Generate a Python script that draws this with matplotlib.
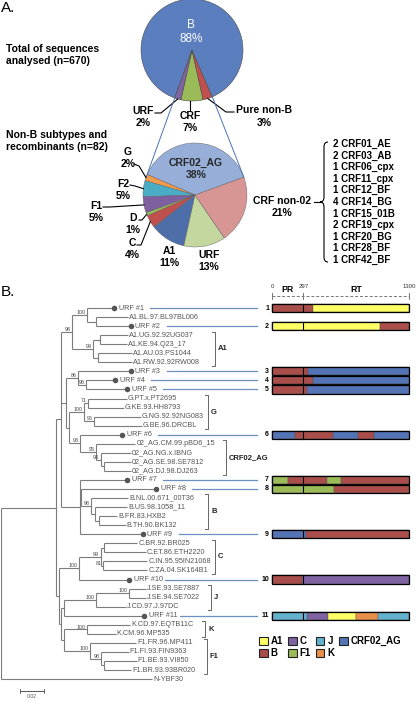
import matplotlib
matplotlib.use("Agg")
import numpy as np
import matplotlib.pyplot as plt
from matplotlib.patches import Rectangle, Patch, PathPatch
from matplotlib.path import Path

plt.rcParams['font.family'] = ['Liberation Sans', 'DejaVu Sans']

# ---------------- panel A data
top_labels = ["CRF", "Pure non-B", "B", "URF"]
top_pct = [7, 3, 88, 2]
top_colors = ["#9BBB59", "#C0504D", "#5B7EBF", "#8064A2"]

nonb_labels = ["CRF02_AG", "G", "F2", "F1", "D", "C", "A1", "URF", "CRF non-02"]
nonb_pct = [38, 2, 5, 5, 1, 4, 11, 13, 21]
nonb_colors = ["#97AFD8", "#F39B4C", "#4BACC6", "#7E60A1", "#9BBB59",
               "#C0504D", "#4E6EAA", "#C4D79E", "#D79694"]

crf_counts = [2, 2, 1, 1, 1, 4, 1, 2, 1, 1, 1]
crf_names = ["CRF01_AE", "CRF03_AB", "CRF06_cpx", "CRF11_cpx", "CRF12_BF",
             "CRF14_BG", "CRF15_01B", "CRF19_cpx", "CRF20_BG", "CRF28_BF", "CRF42_BF"]
n_total = 670
n_nonb = 82

# ---------------- panel B data
# NJ tree, branch lengths in substitutions/site, bootstrap as node labels
tree_nwk = (
    "((("
    "((URF #1:0.0225,(A1.BL.97.BL97BL006:0.027,URF #2:0.029):0.007)100:0.013,"
    "((A1.UG.92.92UG037:0.023,A1.KE.94.Q23_17:0.0225):0.006,(A1.AU.03.PS1044:0.029,A1.RW.92.92RW008:0.029):0.004)99:0.0175)98:0.009,"
    "((URF #3:0.044,(URF #4:0.024,URF #5:0.034)98:0.007)86:0.010,"
    "(((G.PT.x.PT2695:0.0325,G.KE.93.HH8793:0.030)71:0.003,(G.NG.92.92NG083:0.039,G.BE.96.DRCBL:0.040)96:0.008)100:0.0125,"
    "(URF #6:0.035,(02_AG.CM.99.pBD6_15:0.033,(02_AG.NG.x.IBNG:0.025,(02_AG.SE.98.SE7812:0.0225,02_AG.DJ.98.DJ263:0.023):0.0025)93:0.004)95:0.013)93:0.009):0.003):0.004,"
    "(URF #7:0.039,(URF #8:0.0625,(B.NL.00.671_00T36:0.031,(B.US.98.1058_11:0.027,(B.FR.83.HXB2:0.015,B.TH.90.BK132:0.022):0.004):0.003)98:0.008):0.001,URF #9:0.052):0.016"
    "):0.004,"
    "((((C.BR.92.BR025:0.028,C.ET.86.ETH2220:0.035):0.0025,(C.IN.95.95IN21068:0.037,C.ZA.04.SK164B1:0.037)81:0.002)99:0.018,URF #10:0.042)100:0.017,"
    "((((J.SE.93.SE7887:0.014,J.SE.94.SE7022:0.014)100:0.027,J.CD.97.J.97DC:0.025)100:0.027,URF #11:0.067):0.0025,"
    "((K.CD.97.EQTB11C:0.036,K.CM.96.MP535:0.024)100:0.019,(F1.FR.96.MP411:0.038,(F1.FI.93.FIN9363:0.023,(F1.BE.93.VI850:0.027,F1.BR.93.93BR020:0.0225):0.0025)98:0.009)100:0.022):0.0025):0.002"
    "):0.002"
    "):0.046,N-YBF30:0.126);"
)

clade_names = ["A1", "G", "CRF02_AG", "B", "C", "J", "K", "F1"]
clade_first = ["A1.UG.92.92UG037", "G.PT.x.PT2695", "02_AG.CM.99.pBD6_15", "B.NL.00.671_00T36",
               "C.BR.92.BR025", "J.SE.93.SE7887", "K.CD.97.EQTB11C", "F1.FR.96.MP411"]
clade_last = ["A1.RW.92.92RW008", "G.BE.96.DRCBL", "02_AG.DJ.98.DJ263", "B.TH.90.BK132",
              "C.ZA.04.SK164B1", "J.CD.97.J.97DC", "K.CM.96.MP535", "F1.BR.93.93BR020"]

genome_len = 1300
pr_end = 297
urf_ids = list(range(1, 12))
mosaic = [
    [(0, 386, "B"), (386, 1300, "A1")],
    [(0, 1025, "A1"), (1025, 1300, "B")],
    [(0, 345, "B"), (345, 1300, "CRF02_AG")],
    [(0, 386, "B"), (386, 1300, "CRF02_AG")],
    [(0, 335, "B"), (335, 1300, "CRF02_AG")],
    [(0, 218, "CRF02_AG"), (218, 576, "B"), (576, 813, "CRF02_AG"), (813, 971, "B"), (971, 1300, "CRF02_AG")],
    [(0, 155, "F1"), (155, 525, "B"), (525, 655, "F1"), (655, 1300, "B")],
    [(0, 591, "F1"), (591, 1300, "B")],
    [(0, 320, "CRF02_AG"), (320, 1300, "B")],
    [(0, 282, "B"), (282, 1300, "C")],
    [(0, 329, "J"), (329, 535, "C"), (535, 797, "A1"), (797, 1003, "K"), (1003, 1300, "J")],
]
subtype_names = ["A1", "B", "C", "F1", "J", "K", "CRF02_AG"]
subtype_colors = ["#FFFF66", "#A94E4B", "#7E62A1", "#9BBB59", "#63B1CC", "#E8904A", "#5474B6"]
sub_col = dict(zip(subtype_names, subtype_colors))


def parse_newick(s):
    s = s.strip().rstrip(';')
    pos = 0

    def node():
        nonlocal pos
        kids = []
        if s[pos] == '(':
            pos += 1
            while True:
                kids.append(node())
                if s[pos] == ',':
                    pos += 1
                elif s[pos] == ')':
                    pos += 1
                    break
        st = pos
        while pos < len(s) and s[pos] not in ',():':
            pos += 1
        name = s[st:pos].strip()
        ln = 0.0
        if pos < len(s) and s[pos] == ':':
            pos += 1
            st = pos
            while pos < len(s) and s[pos] not in ',()':
                pos += 1
            ln = float(s[st:pos])
        return {'name': name, 'len': ln, 'children': kids}
    return node()


tree = parse_newick(tree_nwk)
leaves = []


def layout(n, x0):
    n['x'] = x0 + n['len']
    if not n['children']:
        n['y'] = len(leaves)
        leaves.append(n)
    else:
        for c in n['children']:
            layout(c, n['x'])
        n['y'] = (n['children'][0]['y'] + n['children'][-1]['y']) / 2


layout(tree, 0.0)
leaf = {n['name']: n for n in leaves}

# ---------------- figure
W, H = 416, 701
fig = plt.figure(figsize=(W / 100, H / 100), dpi=100)

PX = 1200.0          # pixels per substitution unit
Y0, DY = 308, 9.05   # first leaf row, row pitch (px)


def yi(p):
    return (p - Y0) / DY


def pie_ax(cx, cy, r):
    a = fig.add_axes([(cx - r) / W, 1 - (cy + r) / H, 2 * r / W, 2 * r / H])
    return a


def edges(pcts, start):
    return start + 3.6 * np.concatenate([[0], np.cumsum(pcts)])


# top pie
tcx, tcy, tr = 192, 50, 51
top_start = 270 - top_pct[0] * 3.6 / 2
ap = pie_ax(tcx, tcy, tr)
ap.pie(top_pct, colors=top_colors, startangle=top_start, counterclock=True, radius=1,
       wedgeprops=dict(edgecolor='#4a4a4a', linewidth=0.4))
ap.set_xlim(-1, 1); ap.set_ylim(-1, 1); ap.axis('off')
te = edges(top_pct, top_start)
mid_b = np.radians((te[2] + te[3]) / 2)
ap.text(0.36 * np.cos(mid_b), 0.36 * np.sin(mid_b), "B\n%d%%" % top_pct[2], color='white',
        fontsize=8.5, ha='center', va='center', linespacing=1.25)

# non-B pie
bcx, bcy, br = 195, 195, 52
nb_start = 20
bp = pie_ax(bcx, bcy, br)
bp.pie(nonb_pct, colors=nonb_colors, startangle=nb_start, counterclock=True, radius=1,
       wedgeprops=dict(edgecolor='#5a5a5a', linewidth=0.3))
bp.set_xlim(-1, 1); bp.set_ylim(-1, 1); bp.axis('off')
be = edges(nonb_pct, nb_start)
mid0 = np.radians((be[0] + be[1]) / 2)
bp.text(0.5 * np.cos(mid0), 0.5 * np.sin(mid0), "CRF02_AG\n%d%%" % nonb_pct[0], color='#262626',
        fontsize=7.5, fontweight='bold', ha='center', va='center', linespacing=1.25)

# ---------------- panel B: tree
axt = fig.add_axes([1 / W, 0, 415 / W, 421 / H])
axt.set_xlim(0, 415 / PX)
axt.set_ylim(yi(701), yi(280))
axt.axis('off')
tree_col = '#7c7c7c'


def draw(n):
    if n['children']:
        ys = [c['y'] for c in n['children']]
        axt.plot([n['x'], n['x']], [min(ys), max(ys)], color=tree_col, lw=0.8,
                 solid_capstyle='butt')
        for c in n['children']:
            axt.plot([n['x'], c['x']], [c['y'], c['y']], color=tree_col, lw=0.8,
                     solid_capstyle='butt')
            draw(c)
        if n['name']:
            axt.text(n['x'] - 1.5 / PX, n['y'] - 0.25, n['name'], fontsize=3.8,
                     ha='right', va='center', color='#444')
    else:
        if n['name'].startswith('URF'):
            axt.plot(n['x'], n['y'], 'o', ms=4, color='#555', mec='none')
            axt.text(n['x'] + 4.5 / PX, n['y'], n['name'], fontsize=5.2, va='center',
                     color='#555')
        else:
            axt.text(n['x'] + 1 / PX, n['y'], n['name'], fontsize=5.2, va='center',
                     color='#555')


draw(tree)

# clade brackets
br_x = [215, 208, 226, 208, 215, 211, 205, 207]
for name, a, b, px in zip(clade_names, clade_first, clade_last, br_x):
    y1, y2 = leaf[a]['y'] - 0.4, leaf[b]['y'] + 0.4
    x = (px - 1) / PX
    axt.plot([x - 3 / PX, x, x, x - 3 / PX], [y1, y1, y2, y2], color='#666', lw=0.7)
    axt.text(x + 3 / PX, (y1 + y2) / 2, name, fontsize=5.5, fontweight='bold',
             ha='left', va='center', color='#222')

# scale bar
sx = (20 - 1) / PX
sy = yi(691)
axt.plot([sx, sx + 0.02], [sy, sy], color='#555', lw=0.7, clip_on=False)
axt.plot([sx, sx], [sy - 0.25, sy + 0.25], color='#555', lw=0.6, clip_on=False)
axt.plot([sx + 0.02, sx + 0.02], [sy - 0.25, sy + 0.25], color='#555', lw=0.6, clip_on=False)
axt.text(sx + 0.01, yi(696), "0.02", fontsize=3.6, ha='center', va='center', color='#555')

# URF connector lines
for k in urf_ids:
    n = leaf["URF #%d" % k]
    axt.plot([n['x'] + 36 / PX, (257 - 1) / PX], [n['y'], n['y']], color='#6F8FC4', lw=0.9)

# ---------------- mosaic bars
axb = fig.add_axes([272 / W, 0, 137 / W, 421 / H])
axb.set_xlim(0, genome_len)
axb.set_ylim(yi(701), yi(280))
axb.axis('off')
bh = 0.9
for k, segs in zip(urf_ids, mosaic):
    y = leaf["URF #%d" % k]['y']
    for s, e, st in segs:
        axb.add_patch(Rectangle((s, y - bh / 2), e - s, bh, facecolor=sub_col[st],
                                edgecolor='#555', lw=0.3, clip_on=False))
    axb.add_patch(Rectangle((0, y - bh / 2), genome_len, bh, fill=False,
                            edgecolor='black', lw=0.9, clip_on=False))
    axb.plot([pr_end, pr_end], [y - bh / 2, y + bh / 2], color='black', lw=0.8)
    axb.text(-3 / 137 * genome_len, y, str(k), fontsize=5, fontweight='bold',
             ha='right', va='center')

yh = yi(296)
axb.plot([0, genome_len], [yh, yh], ls=(0, (3, 2)), color='#777', lw=0.7, clip_on=False)
for p in [0, pr_end, genome_len]:
    axb.plot([p, p], [yh - 0.3, yh + 0.3], color='#777', lw=0.7, clip_on=False)
    axb.text(p, yi(286), str(p), fontsize=4.3, ha='center', va='center', color='#333')
axb.text(pr_end / 2, yi(290), "PR", fontsize=6.3, fontweight='bold', ha='center', va='center')
axb.text((pr_end + genome_len) / 2, yi(290), "RT", fontsize=6.3, fontweight='bold',
         ha='center', va='center')

handles = [Patch(facecolor=c, edgecolor='#222', linewidth=0.8) for c in subtype_colors]
fig.legend(handles, subtype_names, ncol=4, loc='upper left',
           bbox_to_anchor=(259 / W, 1 - 636 / H), frameon=False,
           prop=dict(size=7, weight='bold'), handlelength=0.9, handleheight=0.9,
           handletextpad=0.3, columnspacing=0.5, labelspacing=0.25, borderpad=0,
           borderaxespad=0)

# ---------------- overlay: panel A annotations
ax = fig.add_axes([0, 0, 1, 1])
ax.set_xlim(0, W); ax.set_ylim(H, 0); ax.axis('off')

ax.text(1, 8, "A.", fontsize=11, va='center')
ax.text(1, 292, "B.", fontsize=11, va='center')
ax.text(6, 55, "Total of sequences\nanalysed (n=%d)" % n_total, fontsize=7.5,
        fontweight='bold', va='center', linespacing=1.3)
ax.text(6, 141, "Non-B subtypes and\nrecombinants (n=%d)" % n_nonb, fontsize=7.5,
        fontweight='bold', va='center', linespacing=1.3)


def rim(cx, cy, r, ang):
    a = np.radians(ang)
    return cx + r * np.cos(a), cy - r * np.sin(a)


lab = dict(fontsize=7.5, fontweight='bold', ha='center', va='center', linespacing=1.3)
# top pie labels
ax.text(143, 117, "%s\n%d%%" % (top_labels[3], top_pct[3]), **lab)
p = rim(tcx, tcy, tr, (te[3] + te[4]) / 2)
ax.plot([155, 161, p[0]], [113, 113, p[1]], color='k', lw=0.8)
ax.text(190, 122, "%s\n%d%%" % (top_labels[0], top_pct[0]), **lab)
p = rim(tcx, tcy, tr, (te[0] + te[1]) / 2)
ax.plot([p[0] - 2, p[0] - 2], [p[1], 111], color='k', lw=0.8)
ax.text(236, 110, top_labels[1], fontsize=7.5, fontweight='bold', va='center')
ax.text(264, 123, "%d%%" % top_pct[1], fontsize=7.5, fontweight='bold', ha='center', va='center')
p = rim(tcx, tcy, tr, (te[1] + te[2]) / 2)
ax.plot([p[0], 226, 234], [p[1], 112, 112], color='k', lw=0.8)

# connectors top pie -> non-B pie
a1 = rim(tcx, tcy, tr, te[3])
b1 = rim(bcx, bcy, br, be[1] + 3)
ax.plot([a1[0], b1[0]], [a1[1], b1[1]], color='#4A74B5', lw=0.7)
a2 = rim(tcx, tcy, tr, te[2])
b2 = rim(bcx, bcy, br, be[0])
ax.plot([a2[0], b2[0]], [a2[1], b2[1]], color='#4A74B5', lw=0.7)

# non-B pie labels
pos = {"G": (128, 158), "F2": (123, 190), "F1": (96, 212), "D": (133, 224),
       "C": (132, 249), "A1": (169, 257), "URF": (209, 261), "CRF non-02": (282, 207)}
lead = {"G": [(134, 164), (139, 166)], "F2": [(130, 185), (135, 186)],
        "F1": [(103, 207), (110, 207)], "D": [(139, 220), (142, 220)],
        "C": [(137, 245), (141, 245)]}
for i, name in enumerate(nonb_labels):
    if name not in pos:
        continue
    x, y = pos[name]
    ax.text(x, y, "%s\n%d%%" % (name, nonb_pct[i]), **lab)
    if name in lead:
        p = rim(bcx, bcy, br, (be[i] + be[i + 1]) / 2)
        xs_ = [q[0] for q in lead[name]] + [p[0]]
        ys_ = [q[1] for q in lead[name]] + [p[1]]
        ax.plot(xs_, ys_, color='k', lw=0.8)
ax.plot([314, 321], [202, 202], color='k', lw=0.8)

# brace + CRF list
verts = [(328, 142), (324, 142), (324, 147), (324, 197), (324, 202), (320, 202),
         (324, 202), (324, 207), (324, 257), (324, 262), (328, 262)]
codes = [Path.MOVETO, Path.CURVE3, Path.CURVE3, Path.LINETO, Path.CURVE3, Path.CURVE3,
         Path.CURVE3, Path.CURVE3, Path.LINETO, Path.CURVE3, Path.CURVE3]
ax.add_patch(PathPatch(Path(verts, codes), fill=False, lw=0.8, edgecolor='k'))
for i, (c, nm) in enumerate(zip(crf_counts, crf_names)):
    ax.text(333, 144 + i * 11.6, "%d %s" % (c, nm), fontsize=7, fontweight='bold', va='center')

fig.savefig("out.png", dpi=100)
